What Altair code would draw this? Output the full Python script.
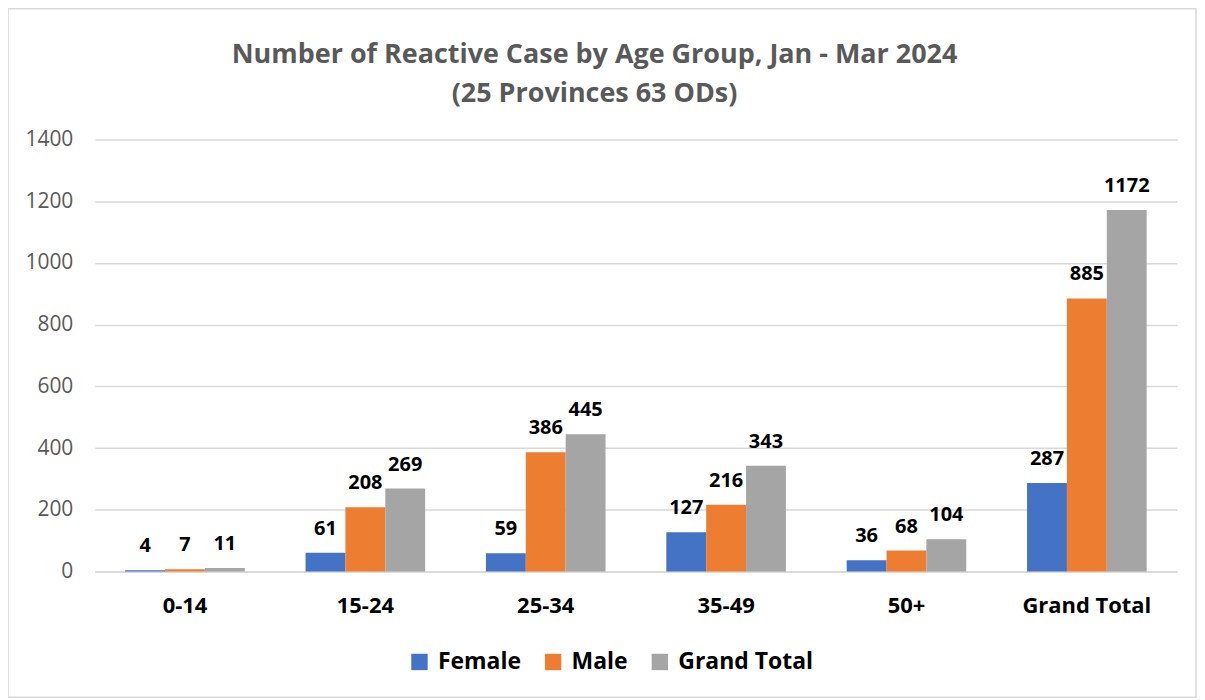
import altair as alt
import pandas as pd

categories = ["0-14", "15-24", "25-34", "35-49", "50+", "Grand Total"]
series = ["Female", "Male", "Grand Total"]
female = [4, 61, 59, 127, 36, 287]
male = [7, 208, 386, 216, 68, 885]
grand_total = [11, 269, 445, 343, 104, 1172]
colors = ["#4472C4", "#ED7D31", "#A5A5A5"]
title_lines = ["Number of Reactive Case by Age Group, Jan - Mar 2024", "(25 Provinces 63 ODs)"]

rows = []
for i, c in enumerate(categories):
    for s, vals in zip(series, [female, male, grand_total]):
        rows.append({"Age": c, "Series": s, "Value": vals[i]})
df = pd.DataFrame(rows)

W, H = 1085, 433
FONT = "Open Sans"

x = alt.X("Age:N", sort=categories,
          scale=alt.Scale(paddingInner=0.337, paddingOuter=0.1685),
          axis=alt.Axis(title=None, labelAngle=0, labelFontSize=22, labelFontWeight="bold",
                        labelColor="#000000", labelPadding=24, ticks=False, domain=True,
                        domainColor="#D9D9D9", domainWidth=1.5, grid=False, labelFont=FONT))
xo = alt.XOffset("Series:N", sort=series, scale=alt.Scale(paddingInner=0, paddingOuter=0))
y = alt.Y("Value:Q", scale=alt.Scale(domain=[0, 1400]),
          axis=alt.Axis(title=None, values=list(range(0, 1401, 200)), format="d", labelFontSize=21,
                        labelColor="#595959", labelPadding=22, ticks=False, domain=False,
                        gridColor="#D9D9D9", gridWidth=1.5, labelFont=FONT))

base = alt.Chart(df)

bars = base.mark_bar().encode(
    x=x, xOffset=xo, y=y,
    color=alt.Color("Series:N", sort=series,
                    scale=alt.Scale(domain=series, range=colors),
                    legend=alt.Legend(title=None, orient="none", direction="horizontal",
                                      legendX=314, legendY=512, symbolType="square",
                                      symbolSize=270, labelFontSize=23, labelFontWeight="bold",
                                      labelColor="#000000", columnPadding=20, labelFont=FONT,
                                      symbolStrokeWidth=0, labelOffset=7)),
)

labels = base.mark_text(dy=-24, fontSize=20, fontWeight="bold", color="#000000", font=FONT).encode(
    x=x, xOffset=xo, y=y, text=alt.Text("Value:Q"),
)

border = alt.Chart(pd.DataFrame({"a": [0]})).mark_rect(
    fill=None, stroke="#D9D9D9", strokeWidth=1.5, clip=False
).encode(x=alt.value(-87), x2=alt.value(W + 19), y=alt.value(-131), y2=alt.value(H + 126))

title1 = alt.Chart(pd.DataFrame({"t": [title_lines[0]]})).mark_text(
    fontSize=27, fontWeight="bold", color="#595959", font=FONT, clip=False
).encode(text="t:N", x=alt.value(501), y=alt.value(-85))
title2 = alt.Chart(pd.DataFrame({"t": [title_lines[1]]})).mark_text(
    fontSize=27, fontWeight="bold", color="#595959", font=FONT, clip=False
).encode(text="t:N", x=alt.value(501), y=alt.value(-46))

chart = alt.layer(border, bars, labels, title1, title2).properties(
    width=W, height=H,
    autosize=alt.AutoSizeParams(type="none"),
    padding={"left": 87, "top": 131, "right": 20, "bottom": 126},
).configure_view(stroke=None)

chart.save("out.html", embed_options={"renderer": "svg", "actions": False})
